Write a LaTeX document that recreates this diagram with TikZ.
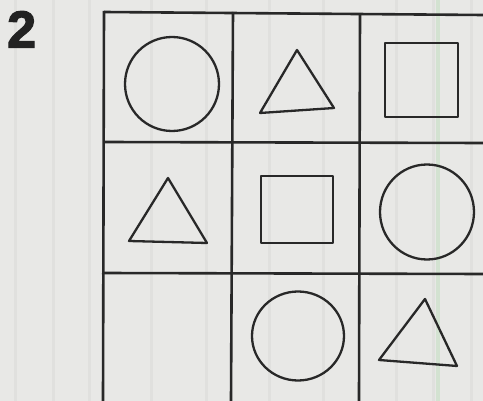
\documentclass[tikz,border=0pt]{standalone}
\usepackage{fontspec}
\setmainfont{Liberation Sans}
\newfontfamily\heavyfont{Liberation Sans}[BoldFeatures={FakeBold=2.5}]
\definecolor{bg}{RGB}{232,232,230}
\definecolor{stripe}{RGB}{224,224,222}
\definecolor{ink}{RGB}{40,40,40}
\tikzset{
  gridline/.style={draw=ink, line width=2.6pt},
  shapeline/.style={draw=ink, line width=2.3pt, line join=round},
  numlabel/.style={font=\heavyfont\bfseries\fontsize{52}{52}\selectfont, text=ink!85!black, inner sep=0pt}
}
\begin{document}
\begin{tikzpicture}[x=1pt,y=-1pt]
\useasboundingbox (0,0) rectangle (483,401);
\fill[bg] (0,0) rectangle (483,401);
% faint vertical stripes of the scanned paper
\foreach \sx in {14,52,88,150,205,268,322,395,432,470}{
  \fill[stripe] (\sx,0) rectangle (\sx+3,401);
}
\fill[stripe!94!green] (436,0) rectangle (440,401);
% label
\node[numlabel, anchor=north west] (num) at (7,11) {2};
% grid
\draw[gridline] (104,12) -- (483,15);
\draw[gridline] (104,142) -- (483,143);
\draw[gridline] (102,273) -- (483,274);
\draw[gridline] (104,11) -- (103,401);
\draw[gridline] (233,12) -- (231,401);
\draw[gridline] (360,14) -- (359,401);
% row 1
\draw[shapeline] (172,84) circle (47);
\draw[shapeline] (297,50) -- (260,113) -- (334,108) -- cycle;
\draw[shapeline] (385,43) rectangle (458,117);
% row 2
\draw[shapeline] (168,178) -- (129,241) -- (207,243) -- cycle;
\draw[shapeline] (261,176) rectangle (333,243);
\draw[shapeline] (427,212) ellipse (47 and 47.5);
% row 3
\draw[shapeline] (298,336) ellipse (46 and 44.5);
\draw[shapeline] (425,299) -- (379,360) -- (457,366) -- cycle;
\end{tikzpicture}
\end{document}
